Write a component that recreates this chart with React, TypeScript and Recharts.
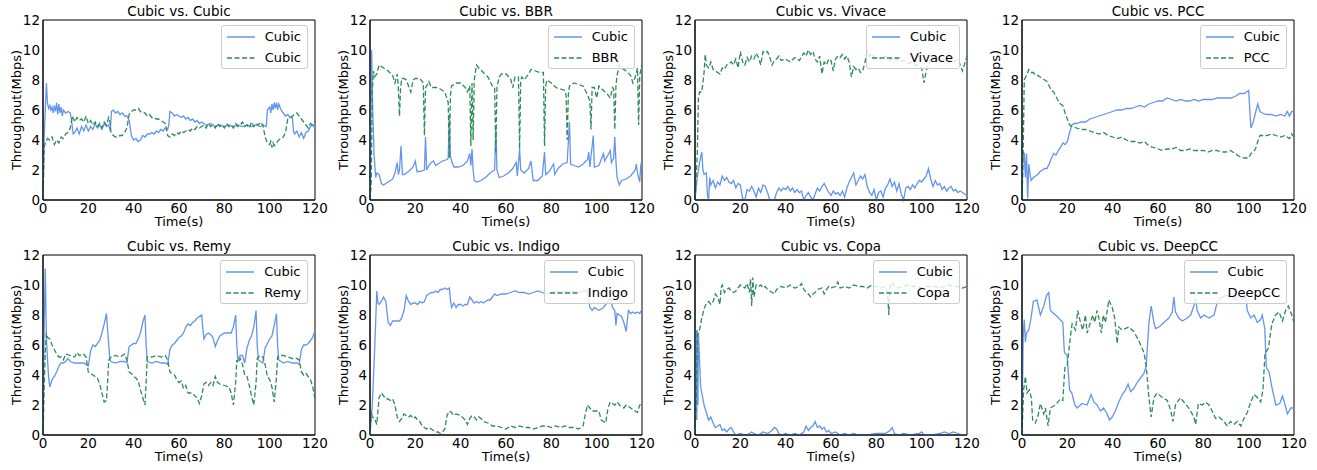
import { LineChart, Line, XAxis, YAxis, Legend, ReferenceArea } from "recharts";

const BLUE = "#6495ED";
const GREEN = "#2E8B57";
const FONT = "'DejaVu Sans', sans-serif";

type Pt = [number, number];

const timeTicks = [0, 20, 40, 60, 80, 100, 120];
const rateTicks = [0, 2, 4, 6, 8, 10, 12];

// Cubic vs. Cubic
const cubicCubicA: Pt[] = [[0,0],[0.5,4],[1,6],[1.5,7.8],[2,6.4],[2.5,6.1],[3,6.3],[3.5,6.0],[4,6.2],[4.5,5.8],[5,6.3],[5.5,5.9],[6,6.5],[6.5,5.7],[7,6.4],[7.5,5.8],[8,6.2],[8.5,5.6],[9,6.0],[10,5.8],[11,5.9],[12,5.8],[12.5,5.4],[13.3,4.4],[14,4.5],[15,4.8],[16,4.4],[17,4.9],[18,4.6],[19,5.0],[20,4.6],[21,4.9],[22,4.7],[23,5.1],[24,4.8],[25,5.0],[26,4.7],[27,5.1],[28,4.9],[29,5.0],[29.7,4.6],[30.2,5.9],[31,6.0],[32,5.8],[33,5.9],[34,5.7],[35,5.8],[36,5.6],[37,5.6],[38,5.3],[39,4.3],[40,4.0],[41,4.1],[42,3.9],[43,4.0],[44,4.3],[45,4.2],[46,4.4],[47,4.4],[48,4.5],[49,4.4],[50,4.6],[51,4.5],[52,4.7],[53,4.6],[54,4.8],[55,4.7],[55.5,5.0],[56,5.9],[57,5.8],[58,5.6],[59,5.7],[60,5.6],[61,5.5],[62,5.6],[63,5.4],[64,5.5],[65,5.3],[66,5.4],[67,5.2],[68,5.3],[69,5.1],[70,5.2],[72,5.0],[74,5.1],[76,4.9],[78,5.0],[80,4.9],[82,5.0],[84,4.9],[86,5.0],[88,4.9],[90,5.0],[92,4.9],[94,5.0],[96,4.9],[97,5.0],[98.5,4.9],[99,6.0],[100,6.2],[100.5,5.8],[101,6.4],[101.5,6.0],[102,6.5],[102.5,6.1],[103,6.5],[103.5,6.0],[104,6.4],[105,6.0],[106,5.8],[107,5.6],[108,5.7],[109,5.5],[110,5.5],[110.5,4.6],[111,4.4],[112,4.6],[113,4.2],[114,4.5],[115,4.1],[116,4.5],[117,4.6],[118,4.9],[119,5.0],[120,4.8]];
const cubicCubicB: Pt[] = [[0,0],[0.5,3.5],[1,3.8],[2,4.1],[3,4.0],[4,4.2],[5,3.7],[6,4.0],[7,3.8],[8,4.2],[9,4.1],[10,4.4],[11,4.5],[12,4.8],[13,5.6],[14,5.2],[15,5.5],[16,5.3],[17,5.4],[18,5.2],[19,5.6],[20,5.1],[21,5.3],[22,5.0],[23,5.2],[24,4.9],[25,5.1],[26,4.8],[27,5.2],[28,5.0],[29,5.5],[29.5,5.2],[30,4.5],[31,4.3],[32,4.2],[33,4.2],[34,4.3],[35,4.3],[36,4.5],[37,4.8],[38,5.7],[39,5.9],[40,6.0],[41,6.0],[42,6.1],[43,5.9],[44,5.8],[45,5.8],[46,5.6],[47,5.7],[48,5.5],[49,5.5],[50,5.4],[51,5.4],[52,5.3],[53,5.2],[54,5.1],[55,4.3],[56,4.2],[57,4.4],[58,4.3],[59,4.5],[60,4.4],[61,4.6],[62,4.5],[63,4.6],[64,4.7],[65,4.6],[66,4.8],[67,4.7],[68,4.9],[69,4.8],[70,4.9],[71,5.0],[72,4.8],[73,5.1],[74,4.9],[75,5.0],[76,4.8],[77,5.1],[78,4.9],[79,5.0],[80,4.8],[81,5.1],[82,4.9],[83,5.0],[84,4.8],[85,5.1],[86,4.9],[87,5.0],[88,5.2],[89,4.9],[90,5.0],[91,4.8],[92,5.2],[93,4.9],[94,5.1],[95,5.0],[96,5.2],[97,5.0],[98,4.2],[99,3.8],[100,3.7],[100.5,3.9],[101,3.5],[101.5,3.8],[102,3.6],[103,3.8],[104,4.0],[105,4.1],[106,4.2],[107,4.5],[108,5.4],[109,5.5],[110,5.6],[111,5.7],[112,5.8],[113,5.6],[114,5.4],[115,5.2],[116,5.0],[117,4.8],[118,5.1],[119,5.0],[120,5.2]];

// Cubic vs. BBR
const bbrCubic: Pt[] = [[0,0],[0.4,6],[0.7,10],[1.2,6],[1.8,3],[2.5,1.5],[3,1.8],[4,1.7],[5,1.1],[6,1.0],[7,1.1],[8,1.2],[9,1.3],[10,1.4],[11,1.8],[12,2.5],[12.5,1.7],[13,2.0],[13.7,3.6],[14.3,1.7],[15,1.7],[17,1.9],[19,2.2],[20,2.6],[20.7,1.9],[22,1.9],[24,2.0],[24.5,4.2],[25,2.0],[26,2.3],[27,2.5],[28,2.6],[29,2.3],[30,2.4],[32,2.6],[34,2.7],[34.5,2.8],[35,5.7],[35.5,2.9],[36,2.6],[37,2.2],[39,2.2],[41,2.3],[43,2.6],[44,3.1],[44.5,2.3],[45,3.4],[45.5,2.0],[46,1.3],[47,1.2],[49,1.3],[51,1.5],[53,1.8],[55,2.0],[55.5,4.9],[56,2.0],[57,1.5],[59,1.6],[61,1.8],[63,2.1],[64.5,2.5],[65,1.6],[66,3.4],[66.5,2.0],[68,1.8],[70,2.1],[71,2.6],[72,1.3],[74,1.3],[76,1.6],[77,3.2],[77.5,1.7],[79,1.9],[81,2.4],[81.5,1.7],[83,2.1],[85,2.4],[87,2.5],[88,5.2],[88.5,2.4],[90,2.3],[92,2.2],[94,2.4],[96,2.7],[96.5,3.2],[97,2.2],[98.5,4.3],[99,2.2],[101,2.3],[102,2.7],[103,3.1],[103.5,2.6],[105,3.0],[106,3.3],[106.5,2.5],[107.5,2.8],[108,4.2],[108.5,2.6],[109,1.5],[110,1.0],[111,1.3],[113,1.4],[115,1.6],[117,2.0],[117.5,2.4],[118,1.8],[119,1.2],[119.5,2.4],[120,2.4]];
const bbrOther: Pt[] = [[0,0],[0.5,1],[1,7],[1.5,8.6],[2,8.2],[3,8.4],[4,9.0],[5,8.9],[6,8.8],[8,8.6],[10,8.3],[11,7.8],[12,8.4],[12.5,7.5],[13,5.6],[13.5,7.5],[14,8.1],[15,8.1],[16,8.0],[17,7.6],[18,7.2],[19,8.0],[20,8.1],[22,8.1],[23.5,7.8],[24,4.3],[24.5,7.5],[25,7.6],[26,7.9],[27,7.5],[29,7.5],[31,7.4],[33,7.2],[34.5,6.5],[35,2.8],[35.5,7.0],[36,7.6],[38,7.8],[40,7.8],[42,7.5],[43,7.2],[44,7.6],[44.5,3.6],[45,7.8],[45.5,4.0],[46,8.0],[47,9.0],[48,8.8],[50,8.5],[52,8.2],[54,7.6],[55,7.5],[55.5,3.1],[56,7.5],[57,8.2],[58,8.4],[60,8.4],[62,8.1],[63,7.5],[64,8.2],[65.5,8.2],[66,3.4],[66.5,8.0],[67,8.2],[68,8.0],[70,8.4],[71,8.7],[73,8.6],[75,8.5],[76.5,8.5],[77,3.6],[77.5,7.6],[78,8.0],[80,7.8],[82,7.5],[84,7.4],[86,7.3],[86.5,7.0],[87,4.0],[87.5,7.0],[88,7.6],[90,7.8],[92,7.7],[94,7.6],[96,7.0],[97,6.6],[97.5,4.7],[98,7.5],[99,7.5],[100,6.8],[101,7.6],[103,7.3],[105,7.0],[106,6.8],[107,7.5],[107.5,7.4],[108,4.7],[108.5,7.6],[109,8.3],[110,9.0],[111,8.8],[113,8.6],[115,8.3],[116,7.8],[117,8.2],[118,8.8],[118.5,5.0],[119,8.3],[120,9.1]];

// Cubic vs. Vivace
const vivaceCubic: Pt[] = [[0,0],[1,1.5],[2,2.5],[3,3.2],[3.5,2.0],[4,1.7],[5,1.8],[5.5,0.3],[6,0],[6.5,1.5],[7,1.0],[8,1.3],[9,0.8],[10,1.2],[11,1.0],[12,1.6],[13,1.3],[14,1.5],[15,1.2],[16,1.1],[17,1.3],[18,0.8],[19,1.1],[20,1.0],[21,0.1],[22,0],[23,0.7],[24,0.6],[25,0.9],[26,0.6],[27,0.2],[28,0.8],[29,0.5],[30,1.0],[31,0.9],[32,0.5],[33,0],[34,0],[35,0],[36,0.5],[37,0.8],[38,0.6],[39,0.8],[40,0.7],[41,0.9],[42,0.6],[43,0.8],[44,0.5],[45,0.7],[46,0.5],[47,0.6],[48,0],[49,0.3],[50,0.5],[51,0.2],[52,0],[53,0.4],[54,0.8],[55,0.6],[56,0.9],[57,1.1],[58,0.8],[59,0.5],[60,0.3],[61,0.6],[62,0.4],[63,0.5],[64,0.3],[65,0.6],[66,0.2],[67,0.8],[68,1.2],[69,1.5],[70,1.8],[71,1.0],[72,1.3],[73,1.6],[74,1.4],[75,1.7],[76,0.9],[77,0.5],[78,0.3],[79,0.7],[80,0],[81,0.5],[82,0.6],[83,0.2],[84,0.8],[85,1.0],[86,1.4],[87,0.9],[88,1.2],[89,0.6],[90,1.1],[91,0.4],[92,0],[93,0.8],[94,0.9],[95,0.7],[96,1.0],[97,0.8],[98,1.1],[99,1.3],[100,1.2],[101,1.4],[102,1.6],[103,2.1],[104,1.4],[105,0.9],[106,1.3],[107,1.0],[108,1.1],[109,0.7],[110,0.9],[111,0.6],[112,0.8],[113,0.9],[114,0.6],[115,0.7],[116,0.5],[117,0.6],[118,0.5],[119,0.4],[120,0.3]];
const vivaceOther: Pt[] = [[0,0],[1,3],[1.5,6.8],[2,7.2],[3,7.2],[4,8.5],[4.5,9.7],[5,9.0],[6,8.8],[7,9.2],[8,8.7],[9,8.6],[10,8.5],[11,8.4],[12,8.8],[13,8.7],[14,9.0],[15,9.1],[16,9.2],[17,9.0],[18,9.4],[19,8.8],[20,9.9],[21,9.2],[22,9.0],[23,9.5],[24,9.2],[25,9.6],[26,9.4],[27,9.8],[28,9.5],[29,9.0],[30,9.9],[31,9.8],[32,9.9],[33,9.5],[34,9.0],[35,9.3],[36,9.4],[37,9.6],[38,9.3],[40,9.4],[42,9.2],[44,9.5],[46,9.3],[48,9.8],[49,9.6],[50,10.0],[51,9.7],[52,9.9],[53,9.4],[54,9.2],[55,9.6],[56,8.4],[57,9.2],[58,9.0],[59,9.4],[60,9.3],[61,8.6],[62,9.4],[63,9.6],[64,9.5],[65,9.7],[66,9.4],[67,9.6],[68,9.2],[69,8.2],[70,8.9],[71,8.7],[72,8.8],[73,8.5],[74,8.6],[75,9.2],[76,9.9],[77,9.6],[78,9.8],[79,9.4],[80,9.5],[82,9.4],[84,9.6],[86,9.3],[88,9.5],[90,9.2],[92,9.3],[94,9.1],[96,9.2],[98,8.9],[100,8.8],[101,7.8],[102,8.6],[103,9.0],[104,9.3],[106,9.5],[108,9.2],[110,9.4],[112,9.3],[114,9.2],[116,9.4],[117,9.0],[118,8.6],[119,9.1],[120,9.6]];

// Cubic vs. PCC
const pccCubic: Pt[] = [[0,0],[0.5,3.2],[1,3.1],[1.5,1.5],[2,3.1],[2.5,0.1],[3,2.4],[3.5,1.8],[4,1.3],[5,1.5],[6,1.6],[7,1.7],[8,1.9],[9,2.0],[10,2.1],[11,2.1],[12,2.4],[13,2.8],[14,3.1],[15,3.0],[16,3.3],[17,3.5],[18,3.8],[19,3.7],[20,3.9],[21,4.5],[22,5.0],[23,5.1],[24,5.1],[26,5.2],[28,5.2],[30,5.4],[32,5.5],[34,5.6],[36,5.7],[38,5.8],[40,5.9],[42,6.0],[44,6.0],[46,6.1],[48,6.1],[50,6.2],[52,6.3],[54,6.2],[56,6.4],[58,6.5],[60,6.6],[62,6.6],[64,6.8],[66,6.7],[68,6.6],[70,6.7],[72,6.6],[74,6.6],[76,6.7],[78,6.6],[80,6.7],[82,6.7],[84,6.7],[86,6.8],[88,6.8],[90,6.8],[92,6.8],[94,6.9],[95,7.0],[96,7.1],[98,7.1],[99,7.2],[100,7.3],[100.5,6.0],[101,4.8],[102,5.2],[103,5.8],[104,6.4],[105,5.9],[106,5.8],[108,5.7],[110,5.7],[112,5.6],[114,5.7],[116,5.6],[117,5.9],[118,5.6],[119,5.9],[120,5.9]];
const pccOther: Pt[] = [[0,0],[0.5,3],[1,8.0],[2,8.3],[3,8.7],[4,8.5],[5,8.5],[6,8.3],[7,8.3],[8,8.2],[9,8.1],[10,8.0],[11,7.9],[12,7.6],[13,7.3],[14,7.2],[15,6.9],[16,6.6],[17,6.4],[18,6.3],[19,5.8],[20,5.4],[21,5.0],[22,4.9],[24,4.8],[26,4.7],[28,4.7],[30,4.6],[32,4.5],[34,4.4],[36,4.5],[38,4.3],[40,4.2],[42,4.1],[44,4.2],[46,4.0],[48,3.9],[50,3.9],[52,3.8],[54,3.9],[56,3.6],[58,3.5],[60,3.4],[62,3.3],[64,3.4],[66,3.4],[68,3.5],[70,3.3],[72,3.3],[74,3.4],[76,3.3],[78,3.3],[80,3.3],[82,3.2],[84,3.3],[86,3.3],[88,3.2],[90,3.2],[92,3.3],[94,3.1],[95,3.0],[96,2.9],[98,2.8],[100,2.8],[101,3.1],[102,3.2],[103,3.4],[104,3.9],[105,4.3],[106,4.3],[108,4.3],[110,4.4],[112,4.3],[114,4.2],[116,4.3],[118,4.1],[119,4.4],[120,4.2]];

// Cubic vs. Remy
const remyCubic: Pt[] = [[0,0],[0.5,7],[1,11.1],[1.5,6.5],[2,5.0],[2.5,3.8],[3,3.2],[4,3.7],[5,3.9],[6,4.2],[7,4.6],[8,4.8],[9,4.8],[10,4.9],[11,5.1],[12,4.9],[14,4.8],[16,4.8],[18,4.8],[19,4.7],[20,4.6],[21,5.6],[22,6.0],[23,5.9],[24,6.1],[25,6.3],[26,6.8],[27,7.4],[28,8.1],[29,6.0],[29.5,5.0],[30,4.9],[32,4.8],[34,4.9],[36,4.9],[37,4.8],[38,5.9],[39,6.0],[40,6.1],[41,6.1],[42,6.4],[43,6.8],[44,7.5],[45,8.0],[45.5,6.0],[46,4.9],[48,4.8],[50,4.9],[52,4.8],[54,4.8],[55,4.7],[56,5.7],[57,6.0],[58,6.1],[59,6.3],[60,6.5],[61,6.6],[62,6.8],[63,7.2],[64,7.4],[65,7.3],[66,7.5],[67,7.6],[68,7.8],[69,7.9],[70,8.0],[70.5,7.1],[71,6.4],[72,6.7],[73,6.8],[74,6.7],[75,6.5],[76,5.9],[77,6.3],[78,6.6],[80,6.8],[82,6.8],[83,6.8],[84,7.2],[85,8.0],[85.5,6.0],[86,5.0],[87,5.3],[88,5.3],[89,4.8],[90,5.8],[91,6.3],[92,6.6],[93,7.2],[94,8.3],[94.5,6.0],[95,5.0],[96,4.9],[97,4.8],[98,5.8],[99,6.1],[100,6.4],[101,6.6],[102,7.3],[103,8.1],[103.5,6.0],[104,5.0],[106,4.8],[108,4.9],[110,4.8],[112,4.8],[113,4.7],[114,5.7],[115,6.0],[116,6.0],[117,6.1],[118,6.3],[119,6.5],[120,7.0]];
const remyOther: Pt[] = [[0,0],[0.5,3],[1,5.5],[1.5,6.8],[2,6.5],[3,6.4],[4,6.0],[5,5.7],[6,5.4],[7,5.2],[8,5.2],[9,5.0],[10,5.4],[12,5.3],[14,5.2],[15,5.5],[16,5.3],[18,5.4],[19,5.2],[20,4.2],[21,4.1],[22,4.0],[23,3.9],[24,3.8],[25,3.4],[26,2.8],[27,2.2],[28,2.3],[28.5,3.5],[29,5.0],[30,5.2],[32,5.3],[34,5.2],[36,5.4],[37,5.0],[38,4.2],[39,4.1],[40,3.9],[41,3.8],[42,3.6],[43,3.0],[44,2.5],[45,2.0],[45.5,3.5],[46,5.2],[48,5.2],[50,5.3],[52,5.2],[54,5.3],[55,5.0],[56,4.2],[58,4.0],[59,3.7],[60,3.5],[61,3.6],[62,3.1],[63,3.3],[64,2.8],[66,2.8],[67,2.6],[68,2.5],[69,2.1],[70,2.6],[71,3.4],[72,3.5],[73,3.3],[74,3.5],[75,3.3],[76,3.9],[77,3.5],[78,3.4],[80,3.3],[82,3.2],[83,2.8],[84,2.0],[85,3.5],[85.5,5.0],[86,4.8],[87,5.1],[88,4.7],[89,4.0],[90,3.9],[91,3.3],[92,2.6],[93,2.0],[94,3.5],[94.5,5.1],[95,5.2],[96,5.3],[97,5.2],[98,4.7],[99,3.9],[100,3.7],[101,3.2],[102,2.2],[103,3.8],[103.5,5.2],[104,5.3],[106,5.3],[108,5.2],[110,5.1],[112,5.1],[113,5.0],[114,4.2],[115,4.0],[116,4.1],[117,3.9],[118,3.7],[119,3.2],[120,2.4]];

// Cubic vs. Indigo
const indigoCubic: Pt[] = [[0,0],[1,2],[2,5.5],[3,9.6],[3.5,8.8],[4,8.7],[5,8.9],[6,9.2],[7,8.9],[8,7.5],[9,7.3],[10,7.6],[11,7.6],[12,7.6],[13,7.6],[14,7.8],[15,8.3],[16,9.3],[17,8.9],[18,8.7],[19,8.8],[20,8.8],[21,8.7],[22,8.9],[23,8.8],[24,8.9],[25,9.3],[26,9.4],[27,9.5],[28,9.5],[29,9.6],[30,9.5],[31,9.7],[32,9.7],[33,9.8],[34,9.7],[35,9.8],[35.5,9.0],[36,8.5],[37,8.8],[38,8.5],[39,8.7],[40,8.7],[41,8.6],[42,8.7],[43,8.7],[44,9.2],[45,9.0],[46,8.8],[47,8.9],[48,8.8],[49,8.9],[50,8.8],[51,8.9],[52,9.0],[53,9.0],[54,9.2],[55,9.4],[56,9.3],[58,9.4],[60,9.4],[62,9.5],[64,9.6],[66,9.5],[68,9.5],[70,9.4],[72,9.5],[74,9.6],[76,9.5],[78,9.4],[80,9.5],[82,9.6],[84,9.5],[86,9.6],[88,9.5],[90,9.6],[92,9.5],[94,9.6],[96,9.6],[97,8.5],[98,8.3],[99,8.5],[100,8.4],[101,8.3],[102,8.4],[103,8.5],[104,8.7],[105,8.9],[106,9.2],[107,8.5],[108,8.3],[108.5,7.3],[109,8.1],[110,8.0],[111,7.9],[112,7.5],[113,6.9],[114,8.3],[115,8.1],[116,8.2],[117,8.1],[118,8.2],[119,8.1],[120,8.4]];
const indigoOther: Pt[] = [[0,0.3],[0.5,1.6],[1,1.2],[2,1.1],[3,0.7],[4,2.5],[5,2.8],[6,2.6],[7,2.4],[8,2.4],[9,2.3],[10,2.4],[11,2.0],[12,1.2],[13,0.9],[14,1.1],[15,1.4],[16,1.3],[17,1.2],[18,1.3],[19,1.1],[20,1.2],[21,1.0],[22,0.9],[23,0.6],[24,0.5],[25,0.4],[26,0.5],[27,0.4],[28,0.3],[29,0.2],[30,0.2],[31,0.1],[32,0.2],[33,0.4],[34,1.3],[35,1.6],[36,1.5],[37,1.3],[38,1.4],[40,1.3],[42,1.0],[43,0.7],[44,1.1],[45,1.3],[46,1.2],[47,1.0],[48,1.2],[49,1.1],[50,0.9],[52,0.8],[54,0.6],[56,0.6],[58,0.5],[60,0.4],[62,0.6],[64,0.5],[66,0.6],[68,0.5],[70,0.5],[72,0.4],[74,0.5],[76,0.6],[78,0.6],[80,0.5],[82,0.6],[84,0.5],[86,0.6],[88,0.5],[90,0.5],[92,0.4],[93,0.5],[94,0.6],[95,1.4],[96,2.0],[97,1.8],[98,1.6],[100,1.6],[101,1.6],[102,1.0],[103,0.9],[104,0.8],[105,1.8],[106,2.2],[107,2.1],[108,2.0],[109,2.2],[110,2.0],[111,1.9],[112,1.8],[113,2.0],[114,1.9],[115,1.8],[116,1.7],[117,1.6],[118,1.5],[119,2.0],[120,2.2]];

// Cubic vs. Copa
const copaCubic: Pt[] = [[0,0],[0.5,7.0],[0.8,1.0],[1,7.0],[1.3,2.0],[1.5,6.8],[2,5.0],[2.5,3.2],[3,2.8],[4,2.0],[5,1.5],[6,1.0],[7,1.2],[8,0.8],[9,0.5],[10,0.6],[11,0.7],[12,0.3],[13,0.4],[14,0.2],[15,0.4],[16,0.5],[17,0.2],[18,0],[20,0.1],[22,0],[24,0.1],[25,0.2],[26,0.1],[28,0],[30,0.2],[32,0.1],[34,0.3],[35,0.5],[36,0.4],[37,0.1],[38,0],[40,0.1],[42,0],[44,0.1],[46,0],[48,0.2],[49,0.6],[50,0.3],[51,0.5],[52,0.6],[53,0.9],[54,0.5],[55,0.6],[56,0.4],[57,0.5],[58,0.2],[59,0.3],[60,0.1],[62,0.2],[64,0],[66,0.1],[68,0],[70,0.1],[72,0],[76,0],[80,0.1],[84,0.1],[86,0.3],[87,0.5],[88,0.1],[90,0],[92,0.1],[95,0],[99,0.1],[100,0.2],[101,0],[105,0],[108,0.1],[110,0.2],[112,0.1],[114,0.2],[116,0.1],[118,0],[120,0]];
const copaOther: Pt[] = [[0,0],[0.5,2],[1,6.5],[1.5,6.9],[2,7.0],[3,7.8],[4,8.4],[5,8.8],[6,8.9],[7,8.7],[8,8.9],[9,9.4],[10,9.2],[11,8.7],[11.5,9.8],[12,10.0],[13,9.5],[14,9.7],[15,9.8],[16,9.6],[17,9.5],[18,9.6],[19,9.8],[20,10.0],[21,9.9],[22,9.8],[23,10.1],[24,9.5],[24.5,10.4],[25,8.6],[25.5,10.5],[26,9.2],[27,10.0],[28,9.9],[29,10.0],[30,9.8],[31,9.9],[32,9.7],[33,9.6],[34,9.5],[35,9.4],[36,9.7],[38,9.9],[40,9.8],[42,10.0],[44,9.8],[46,9.9],[47,10.1],[48,9.7],[50,9.4],[51,9.2],[52,9.4],[53,9.5],[54,9.7],[56,9.8],[57,9.4],[58,9.7],[59,9.9],[60,9.8],[62,9.9],[63,10.2],[64,9.8],[66,9.9],[68,9.8],[70,10.0],[72,9.9],[74,9.9],[76,9.8],[78,10.0],[80,9.9],[82,9.8],[84,9.9],[85,9.4],[85.5,8.0],[86,9.9],[87,10.2],[88,9.9],[90,9.8],[92,9.9],[94,10.0],[96,9.9],[98,9.9],[100,9.8],[102,9.9],[104,9.9],[106,9.9],[108,9.8],[110,9.9],[112,10.0],[114,9.9],[116,9.9],[118,9.8],[120,9.9]];

// Cubic vs. DeepCC
const deepccCubic: Pt[] = [[0,0],[0.5,6.5],[1,7.7],[1.5,6.2],[2,6.8],[3,7.0],[4,7.8],[5,8.9],[6.6,9.0],[8.1,8.0],[9.6,8.6],[10.8,9.3],[11.8,9.5],[12.5,8.3],[14,8.1],[15.5,7.9],[18,7.5],[18.7,5.5],[19.9,5.3],[21,3.0],[22,2.8],[23.3,2.0],[24.3,1.8],[26.5,2.1],[28.7,2.0],[30.5,2.7],[31.7,2.2],[33.1,2.0],[34.6,1.6],[36,1.8],[37.6,1.4],[38.6,1.0],[39.8,1.2],[41.2,1.6],[42.7,2.2],[44.2,2.7],[45.7,3.0],[46.8,3.4],[47.9,2.9],[49.3,3.1],[50.8,3.5],[52.3,3.8],[53.8,4.1],[54.8,4.6],[56,7.5],[57,8.6],[58.2,7.5],[58.9,7.1],[60.4,7.2],[61.9,7.4],[63.3,7.6],[64.8,7.8],[66.3,8.2],[67,9.2],[67.7,8.2],[69.2,7.8],[70.7,7.6],[72.9,7.8],[74.4,8.0],[75.8,8.6],[76.6,9.1],[77.3,8.3],[78.8,7.8],[80.3,8.0],[82.5,7.8],[84.7,8.0],[86.2,8.9],[87.6,9.1],[89.8,9.3],[92,9.3],[94.3,9.0],[95.7,9.4],[97.2,9.0],[98.7,9.3],[99.4,8.3],[100.9,7.8],[102.4,8.0],[103.8,7.5],[105.3,7.7],[106,8.0],[107.1,7.1],[107.8,4.5],[109,4.2],[110.5,3.0],[112,2.0],[113.7,2.1],[114.9,2.6],[115.9,2.1],[117.1,1.4],[118.6,1.8],[120,1.8]];
const deepccOther: Pt[] = [[0,0],[0.7,3.0],[1.5,3.9],[2.2,2.8],[3.2,3.0],[4.1,2.5],[4.7,1.0],[5.9,0.8],[7.1,1.3],[8.1,2.1],[9.6,1.4],[10.3,1.8],[11.5,0.6],[12.5,1.8],[14.7,2.0],[16.9,2.4],[18,2.3],[18.9,4.5],[19.9,4.6],[21.4,6.6],[22.1,7.4],[23.6,7.0],[24.6,8.3],[25.8,7.5],[26.8,7.0],[28,8.0],[28.7,6.8],[30.2,7.5],[31.2,8.0],[32.1,7.5],[33.1,8.3],[33.9,7.8],[35,6.8],[35.8,8.0],[36.8,7.5],[38.3,9.0],[39.8,8.5],[40.9,7.8],[42,6.1],[42.7,7.2],[44.2,7.0],[47.1,7.2],[49.3,6.9],[51.5,6.3],[53.8,5.5],[54.8,4.6],[56,2.5],[57,1.2],[58.2,2.5],[59.6,2.8],[61.9,2.5],[64.1,2.3],[65.5,1.7],[66.6,0.9],[67.7,2.0],[69.9,2.5],[71.4,2.2],[73.6,1.8],[75.8,1.2],[76.6,0.7],[77.8,2.1],[79.5,2.0],[81,2.2],[82.5,2.0],[84.2,1.5],[85.4,1.1],[86.9,1.2],[89.1,0.9],[90.6,0.6],[92,0.9],[93.4,0.7],[95,0.9],[96.5,0.6],[97.9,1.1],[99.4,1.5],[100.9,2.2],[102.4,2.7],[103.8,2.5],[105.3,2.2],[106.3,3.0],[107.2,5.4],[108.7,5.8],[110.2,7.4],[111.9,8.0],[113.4,8.2],[114.9,7.6],[116.3,8.3],[117.5,8.6],[119,8.0],[120,7.5]];

const panels = [
  { title: "Cubic vs. Cubic", rival: "Cubic", cubic: cubicCubicA, other: cubicCubicB },
  { title: "Cubic vs. BBR", rival: "BBR", cubic: bbrCubic, other: bbrOther },
  { title: "Cubic vs. Vivace", rival: "Vivace", cubic: vivaceCubic, other: vivaceOther },
  { title: "Cubic vs. PCC", rival: "PCC", cubic: pccCubic, other: pccOther },
  { title: "Cubic vs. Remy", rival: "Remy", cubic: remyCubic, other: remyOther },
  { title: "Cubic vs. Indigo", rival: "Indigo", cubic: indigoCubic, other: indigoOther },
  { title: "Cubic vs. Copa", rival: "Copa", cubic: copaCubic, other: copaOther },
  { title: "Cubic vs. DeepCC", rival: "DeepCC", cubic: deepccCubic, other: deepccOther },
];

const colLefts = [0, 327, 652, 979];
const rowTops = [0, 235];
const CHART_W = 336;
const CHART_H = 235;
const DASH = "5 2.5";

const toRows = (pts: Pt[]) => pts.map(([t, v]) => ({ t, v }));

function LegendBox({ rival }: { rival: string }) {
  const items = [
    { name: "Cubic", color: BLUE, dash: undefined as string | undefined },
    { name: rival, color: GREEN, dash: DASH },
  ];
  return (
    <div
      style={{
        border: "1px solid #cccccc",
        borderRadius: 3,
        background: "rgba(255,255,255,0.8)",
        padding: "0 6px 0 5px",
        fontFamily: FONT,
        fontSize: 13,
        color: "#000",
      }}
    >
      {items.map((it) => (
        <div key={it.name} style={{ display: "flex", alignItems: "center", height: 21 }}>
          <svg width={28} height={6} style={{ marginRight: 10 }}>
            <line x1={0} y1={3} x2={28} y2={3} stroke={it.color} strokeWidth={1.5} strokeDasharray={it.dash} />
          </svg>
          <span>{it.name}</span>
        </div>
      ))}
    </div>
  );
}

function Panel({ idx }: { idx: number }) {
  const p = panels[idx];
  const left = colLefts[idx % 4];
  const top = rowTops[Math.floor(idx / 4)];
  const axisText = { fill: "#000", fontSize: 13.5, fontFamily: FONT };
  return (
    <div style={{ position: "absolute", left, top, width: CHART_W, height: CHART_H }}>
      <div
        style={{
          position: "absolute",
          left: 43,
          width: 272,
          top: 3,
          textAlign: "center",
          fontSize: 13.5,
          fontFamily: FONT,
          color: "#000",
          lineHeight: "16px",
        }}
      >
        {p.title}
      </div>
      <LineChart width={CHART_W} height={CHART_H} margin={{ top: 20, right: 21, bottom: 5, left: 13 }}>
        <XAxis
          dataKey="t"
          type="number"
          domain={[0, 120]}
          ticks={timeTicks}
          interval={0}
          height={30}
          tick={axisText}
          tickSize={2}
          tickMargin={1}
          axisLine={{ stroke: "#000" }}
          tickLine={false}
          label={{ value: "Time(s)", position: "insideBottom", offset: 4, fill: "#000", fontSize: 13, fontFamily: FONT }}
        />
        <YAxis
          type="number"
          domain={[0, 12]}
          ticks={rateTicks}
          interval={0}
          width={30}
          tick={axisText}
          tickSize={2}
          tickMargin={1}
          axisLine={{ stroke: "#000" }}
          tickLine={false}
          label={{
            value: "Throughput(Mbps)",
            angle: -90,
            position: "insideLeft",
            offset: 3,
            fill: "#000",
            fontSize: 13,
            fontFamily: FONT,
            style: { textAnchor: "middle" },
          }}
        />
        <ReferenceArea x1={0} x2={120} y1={0} y2={12} fill="none" stroke="#000" strokeWidth={1} />
        <Line
          data={toRows(p.cubic)}
          dataKey="v"
          name="Cubic"
          type="linear"
          stroke={BLUE}
          strokeWidth={1.3}
          dot={false}
          isAnimationActive={false}
        />
        <Line
          data={toRows(p.other)}
          dataKey="v"
          name={p.rival}
          type="linear"
          stroke={GREEN}
          strokeWidth={1.3}
          strokeDasharray={DASH}
          dot={false}
          isAnimationActive={false}
        />
        <Legend
          layout="vertical"
          align="center"
          verticalAlign="middle"
          wrapperStyle={{ top: 25, right: CHART_W - 308, left: "auto", width: "auto" }}
          content={() => <LegendBox rival={p.rival} />}
        />
      </LineChart>
    </div>
  );
}

export default function App() {
  return (
    <div style={{ position: "absolute", left: 0, top: 0, width: 1317, height: 470, background: "#fff", fontFamily: FONT }}>
      {panels.map((_, i) => (
        <Panel key={i} idx={i} />
      ))}
    </div>
  );
}
